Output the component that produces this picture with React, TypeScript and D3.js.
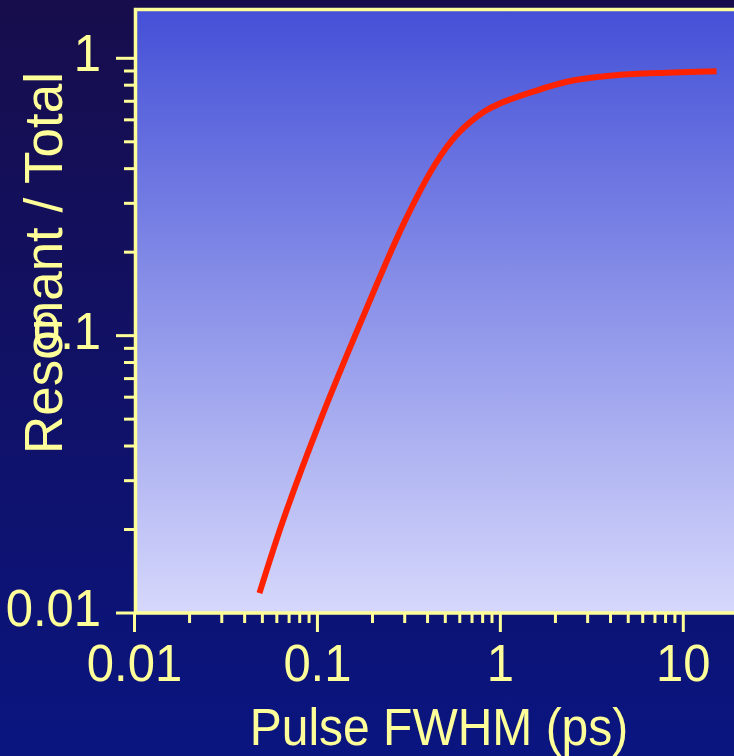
import React from "react";
import * as d3 from "d3";

const pulseFwhm = [0.0482, 0.0651, 0.104, 0.1746, 0.2975, 0.44, 0.578, 0.825, 1.0, 1.51, 2.31, 3.51, 5.33, 8.13, 15.2];
const resonantRatio = [0.0118, 0.0217, 0.0497, 0.114, 0.255, 0.415, 0.53, 0.645, 0.688, 0.758, 0.823, 0.858, 0.878, 0.887, 0.898];
const xTickValues = [0.01, 0.1, 1, 10];
const xTickLabels = ["0.01", "0.1", "1", "10"];
const yTickValues = [0.01, 0.1, 1];
const yTickLabels = ["0.01", "0.1", "1"];
const xLabel = "Pulse FWHM (ps)";
const yLabel = "Resonant / Total";

const W = 734;
const H = 756;
const left = 135.5;
const right = 742;
const top = 9.5;
const bottom = 613;
const yellow = "#ffff99";
const font = "'Liberation Sans', Arial, Helvetica, sans-serif";

export default function App() {
  const x = d3.scaleLog().domain([0.01, 10]).range([134.5, 683.3]);
  const y = d3.scaleLog().domain([0.01, 1]).range([613, 58.3]);

  const minorX: number[] = [];
  for (const d of [0.01, 0.1, 1, 10]) for (let k = 2; k <= 9; k++) minorX.push(d * k);
  const minorY: number[] = [];
  for (const d of [0.01, 0.1]) for (let k = 2; k <= 9; k++) minorY.push(d * k);

  const pts = pulseFwhm.map((v, i) => [x(v), y(resonantRatio[i])] as [number, number]);
  const line = d3.line().curve(d3.curveCatmullRom.alpha(0.5))(pts) || "";

  return (
    <svg width={W} height={H} style={{ position: "absolute", left: 0, top: 0 }}>
      <defs>
        <linearGradient id="bg" x1="0" y1="0" x2="0" y2="1">
          <stop offset="0" stopColor="#170d4c" />
          <stop offset="1" stopColor="#0a1580" />
        </linearGradient>
        <linearGradient id="pf" x1="0" y1="0" x2="0" y2="1">
          <stop offset="0" stopColor="#4450d7" />
          <stop offset="1" stopColor="#d6d8fb" />
        </linearGradient>
        <clipPath id="clip">
          <rect x={left} y={top} width={right - left} height={bottom - top} />
        </clipPath>
      </defs>
      <rect x={0} y={0} width={W} height={H} fill="url(#bg)" />
      <rect x={left} y={top} width={right - left} height={bottom - top} fill="url(#pf)" stroke={yellow} strokeWidth={3.5} />
      <path d={line} fill="none" stroke="#ff2200" strokeWidth={6} strokeLinecap="butt" strokeLinejoin="round" clipPath="url(#clip)" />
      {xTickValues.map((v) => (
        <line key={"xm" + v} x1={x(v)} x2={x(v)} y1={bottom} y2={632} stroke={yellow} strokeWidth={3} />
      ))}
      {minorX.filter((v) => x(v) < W).map((v) => (
        <line key={"xn" + v} x1={x(v)} x2={x(v)} y1={bottom} y2={623} stroke={yellow} strokeWidth={3} />
      ))}
      {yTickValues.map((v) => (
        <line key={"ym" + v} x1={116} x2={left} y1={y(v)} y2={y(v)} stroke={yellow} strokeWidth={3} />
      ))}
      {minorY.map((v) => (
        <line key={"yn" + v} x1={124} x2={left} y1={y(v)} y2={y(v)} stroke={yellow} strokeWidth={3} />
      ))}
      {xTickValues.map((v, i) => (
        <text key={"xl" + v} transform={`translate(${x(v)},681) scale(1,1.06)`} textAnchor="middle" fill={yellow} fontFamily={font} fontSize={49}>
          {xTickLabels[i]}
        </text>
      ))}
      {yTickValues.map((v, i) => (
        <text key={"yl" + v} transform={`translate(101,${y(v) + 13}) scale(1,1.06)`} textAnchor="end" fill={yellow} fontFamily={font} fontSize={49}>
          {yTickLabels[i]}
        </text>
      ))}
      <text transform={`translate(439,745) scale(1,1.08)`} textAnchor="middle" fill={yellow} fontFamily={font} fontSize={48}>
        {xLabel}
      </text>
      <text transform={`translate(62,263) rotate(-90)`} textAnchor="middle" fill={yellow} fontFamily={font} fontSize={53}>
        {yLabel}
      </text>
    </svg>
  );
}
